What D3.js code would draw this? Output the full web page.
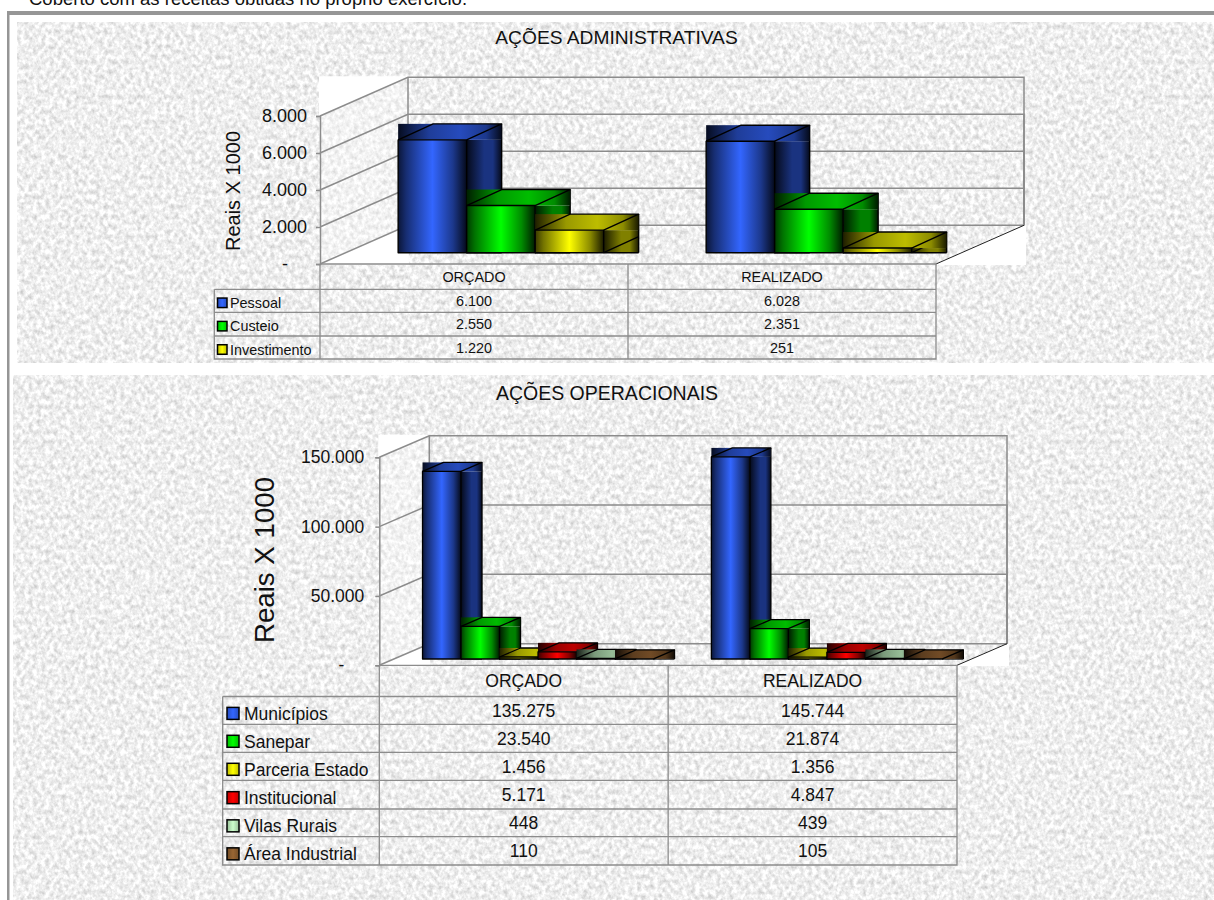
<!DOCTYPE html>
<html lang="pt-BR">
<head>
<meta charset="utf-8">
<title>Ações administrativas e operacionais</title>
<script src="https://cdn.jsdelivr.net/npm/d3@7/dist/d3.min.js"></script>
<style>
html,body{margin:0;padding:0;background:#fff}
svg{display:block}
text{font-family:"Liberation Sans",Arial,sans-serif;fill:#111}
</style>
</head>
<body>
<svg id="c" width="1214" height="900"></svg>
<script>
// ---- data ----
const categories = ["ORÇADO", "REALIZADO"];
const adminSeries = ["Pessoal", "Custeio", "Investimento"];
const adminOrcado = [6100, 2550, 1220];
const adminRealizado = [6028, 2351, 251];
const adminTicks = [0, 2000, 4000, 6000, 8000];
const operSeries = ["Municípios", "Sanepar", "Parceria Estado", "Institucional", "Vilas Rurais", "Área Industrial"];
const operOrcado = [135275, 23540, 1456, 5171, 448, 110];
const operRealizado = [145744, 21874, 1356, 4847, 439, 105];
const operTicks = [0, 50000, 100000, 150000];
const axisTitle = "Reais X 1000";
const headNote = "Coberto com as receitas obtidas no próprio exercício.";

// ---- styling ----
const seriesColors = {
  "Pessoal":"#3366ff","Custeio":"#00ff00","Investimento":"#ffff00",
  "Municípios":"#3366ff","Sanepar":"#00ff00","Parceria Estado":"#ffff00",
  "Institucional":"#ff0000","Vilas Rurais":"#ccffcc","Área Industrial":"#996633"
};
const grid = "#8c8c8c";
const locale = d3.formatLocale({decimal:",",thousands:".",grouping:[3],currency:["",""]});
const fmt = locale.format(",d");

const svg = d3.select("#c");
const defs = svg.append("defs");

// paper texture
const f = defs.append("filter").attr("id","tex").attr("x",0).attr("y",0).attr("width","100%").attr("height","100%")
  .attr("color-interpolation-filters","sRGB");
f.append("feTurbulence").attr("type","fractalNoise").attr("baseFrequency","0.24 0.2").attr("numOctaves",3).attr("seed",7);
f.append("feColorMatrix").attr("type","matrix").attr("values",
  "0.36 0 0 0 0.755  0.36 0 0 0 0.755  0.36 0 0 0 0.755  0 0 0 0 1");

function shade(c,k){const r=d3.rgb(c);return d3.rgb(r.r*k,r.g*k,r.b*k).formatHex();}
let gid=0;
function grad(stops){
  const id="g"+(gid++);
  const g=defs.append("linearGradient").attr("id",id).attr("x1",0).attr("x2",1).attr("y1",0).attr("y2",0);
  stops.forEach(([o,c])=>g.append("stop").attr("offset",o).attr("stop-color",c));
  return `url(#${id})`;
}
function faces(c){
  const topC = shade(c,0.74), sideC = shade(c,0.5);
  return {
    front: grad([[0,shade(c,0.22)],[0.12,shade(c,0.45)],[0.5,c],[0.8,shade(c,0.55)],[1,shade(c,0.1)]]),
    top:   grad([[0,shade(c,0.12)],[0.3,shade(c,0.6)],[0.6,topC],[0.85,shade(c,0.55)],[1,shade(c,0.1)]]),
    side:  grad([[0,shade(c,0.1)],[0.5,sideC],[0.75,sideC],[1,shade(c,0.1)]]),
    key:   grad([[0,shade(c,0.75)],[0.5,c],[1,shade(c,0.75)]])
  };
}

// page frame
svg.append("rect").attr("x",7).attr("y",11).attr("width",1207).attr("height",4).attr("fill","#969696");
svg.append("rect").attr("x",7).attr("y",11).attr("width",2.5).attr("height",889).attr("fill","#969696");
svg.append("text").attr("x",29).attr("y",5).attr("font-size",18.5).text(headNote);

function chart(o){
  const g = svg.append("g");
  g.append("rect").attr("x",o.panel[0]).attr("y",o.panel[1]).attr("width",o.panel[2]).attr("height",o.panel[3])
    .attr("filter","url(#tex)");

  const y = d3.scaleLinear().domain([0,d3.max(o.ticks)]).range([o.y0,o.yTop]);
  const x = d3.scaleBand().domain(categories).range([o.x0,o.x1]);
  const W = o.x1-o.x0, dx=o.dx, dy=o.dy;
  const yMax=y(d3.max(o.ticks)), yMin=y(0);

  // white areas round the 3-D box
  const white=[
    [[o.x0-1,yMax-dy-1],[o.x0+dx,yMax-dy-1],[o.x0+dx,yMax-dy],[o.x0,yMax],[o.x0-1,yMax]],
    [[o.x0-1,yMin],[o.x0+dx,yMin-dy],[o.x0+dx+1,yMin+1],[o.x0-1,yMin+1]],
    [[o.x1,yMin],[o.x1+dx,yMin-dy],[o.x1+dx+2,yMin-dy],[o.x1+dx+2,yMin+1],[o.x1,yMin+1]]
  ];
  g.selectAll("polygon.w").data(white).join("polygon").attr("class","w").attr("fill","#fff")
    .attr("points",d=>d.join(" "));
  // left wall is a little lighter
  g.append("polygon").attr("fill","#fff").attr("opacity",0.3)
    .attr("points",[[o.x0,yMax],[o.x0+dx,yMax-dy],[o.x0+dx,yMin-dy],[o.x0,yMin]].join(" "));

  // gridlines on walls
  g.selectAll("polyline.gl").data(o.ticks).join("polyline").attr("class","gl")
    .attr("fill","none").attr("stroke",grid).attr("stroke-width",1.5)
    .attr("points",v=>[[o.x0,y(v)],[o.x0+dx,y(v)-dy],[o.x0+dx+W,y(v)-dy],[o.x0+dx+W,yMin-dy]].join(" "));
  g.append("line").attr("x1",o.x0+dx).attr("x2",o.x0+dx).attr("y1",yMax-dy).attr("y2",yMin-dy)
    .attr("stroke",grid).attr("stroke-width",1.5);
  g.append("line").attr("x1",o.x1).attr("y1",yMin).attr("x2",o.x1+dx).attr("y2",yMin-dy)
    .attr("stroke","#222").attr("stroke-width",1);

  // axis
  const axis = d3.axisLeft(y).tickValues(o.ticks).tickSize(4).tickPadding(o.tickPad)
    .tickFormat(v=>v===0?"-":fmt(v));
  const ag = g.append("g").attr("transform",`translate(${o.x0},0)`).call(axis);
  ag.selectAll("path,line").attr("stroke",grid).attr("stroke-width",1.5);
  ag.selectAll("text").attr("font-size",o.tickFont).attr("fill","#111")
    .attr("dx",v=>v===0?-o.zeroShift:0);
  g.append("text").attr("transform",`translate(${o.titleX},${o.titleY}) rotate(-90)`)
    .attr("text-anchor","middle").attr("font-size",o.axisFont).text(axisTitle);
  g.append("text").attr("x",o.headX).attr("y",o.headY).attr("text-anchor","middle")
    .attr("font-size",o.headFont).text(o.head);

  // bars
  const inner = d3.scaleBand().domain(o.series).range([0,o.barW*o.series.length]);
  const bd = inner.bandwidth();
  const start = (x.bandwidth()-inner.range()[1])/2 + o.baseDx;
  const fc = {}; o.series.forEach(s=>fc[s]=faces(seriesColors[s]));
  categories.forEach((cat,ci)=>{
    const vals=o.values[ci];
    o.series.forEach((s,si)=>{
      const X=x(cat)+start+inner(s), T=y(vals[si])-o.baseDy, B=yMin-o.baseDy;
      const d=o.barDx, h=o.barDy;
      const b=g.append("g").attr("stroke","#000").attr("stroke-width",o.sw).attr("stroke-linejoin","round");
      b.append("rect").attr("x",X+bd).attr("y",T).attr("width",d).attr("height",B-T)
        .attr("fill",fc[s].side).attr("stroke","none");
      b.append("line").attr("x1",X+bd).attr("y1",B).attr("x2",X+bd+d).attr("y2",B-h);
      b.append("line").attr("x1",X+bd).attr("y1",B).attr("x2",X+bd+d).attr("y2",B);
      b.append("line").attr("x1",X+bd+d).attr("y1",T-h).attr("x2",X+bd+d).attr("y2",B);
      b.append("rect").attr("x",X).attr("y",T-h).attr("width",bd+d).attr("height",h)
        .attr("fill",fc[s].top).attr("stroke","none");
      b.append("polyline").attr("fill","none")
        .attr("points",[[X,T],[X+d,T-h],[X+bd+d,T-h],[X+bd,T]].join(" "));
      b.append("rect").attr("x",X).attr("y",T).attr("width",bd).attr("height",B-T)
        .attr("fill",fc[s].front);
    });
  });

  // data table
  const rows = o.rows;
  const tb = g.append("g").attr("stroke",grid).attr("stroke-width",1.3).attr("fill","none");
  tb.append("polyline").attr("points",[[o.legX,rows[1]],[o.legX,rows[rows.length-1]],[o.x1,rows[rows.length-1]],[o.x1,rows[0]],[o.x0,rows[0]]].join(" "));
  [o.x0,x(categories[1])].forEach(v=>tb.append("line").attr("x1",v).attr("x2",v).attr("y1",rows[0]).attr("y2",rows[rows.length-1]));
  rows.slice(1,-1).forEach(r=>tb.append("line").attr("x1",o.legX).attr("x2",o.x1).attr("y1",r).attr("y2",r));

  const cy=i=>(rows[i]+rows[i+1])/2;
  categories.forEach((cat,ci)=>{
    const cx=x(cat)+x.bandwidth()/2;
    g.append("text").attr("x",cx).attr("y",cy(0)).attr("dy","0.36em").attr("text-anchor","middle")
      .attr("font-size",o.tableFont).text(cat);
    o.values[ci].forEach((v,i)=>g.append("text").attr("x",cx).attr("y",cy(i+1)).attr("dy","0.36em")
      .attr("text-anchor","middle").attr("font-size",o.tableFont).text(fmt(v)));
  });
  o.series.forEach((s,i)=>{
    const ky=cy(i+1)+o.keyDrop;
    g.append("rect").attr("x",o.keyX).attr("y",ky-o.keyH/2).attr("width",o.keyW).attr("height",o.keyH)
      .attr("fill",fc[s].key).attr("stroke","#000").attr("stroke-width",1.5);
    g.append("text").attr("x",o.keyX+o.keyW+o.keyGap).attr("y",ky).attr("dy","0.36em")
      .attr("font-size",o.tableFont).text(s);
  });
}

chart({
  head:"AÇÕES ADMINISTRATIVAS", headX:616.5, headY:44, headFont:19.2,
  panel:[17,22,1197,341], series:adminSeries, values:[adminOrcado,adminRealizado], ticks:adminTicks,
  x0:320,x1:936,y0:264,yTop:116,dx:88,dy:38.7,
  barW:68.5,barDx:35,barDy:16,baseDx:26.9,baseDy:11.3,sw:1.4,
  tickFont:18,tickPad:9,zeroShift:19,
  axisFont:20,titleX:240,titleY:191,
  rows:[264,289.3,312.3,336,359],legX:214.3,keyX:217.5,keyW:9.5,keyH:9.5,keyGap:3,keyDrop:2,tableFont:14.4
});
chart({
  head:"AÇÕES OPERACIONAIS", headX:607, headY:400, headFont:19.5,
  panel:[13,375,1201,525], series:operSeries, values:[operOrcado,operRealizado], ticks:operTicks,
  x0:379.3,x1:957,y0:665.3,yTop:457.3,dx:50,dy:21.6,
  barW:38.5,barDx:21,barDy:9,baseDx:14.3,baseDy:6.3,sw:1.3,
  tickFont:17.5,tickPad:11,zeroShift:20,
  axisFont:27.7,titleX:274,titleY:560,
  rows:[665.3,696.5,724.3,752.3,780.3,809,836.7,865],legX:222.7,keyX:227,keyW:12,keyH:12,keyGap:5,keyDrop:3,tableFont:17.5
});
</script>
</body>
</html>
